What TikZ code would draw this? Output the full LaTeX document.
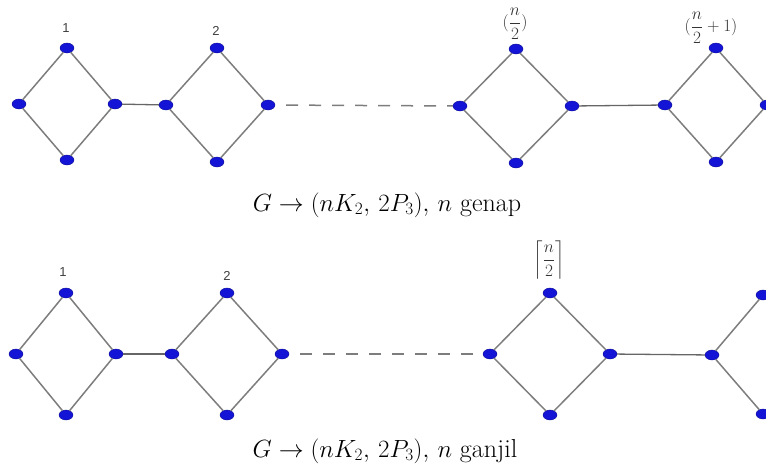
\documentclass[tikz,border=0pt]{standalone}
\usepackage{amsmath,amssymb}
\usepackage{fontspec}
\newfontfamily\lblfont{Liberation Sans}
\usetikzlibrary{shapes.geometric}
\definecolor{vblue}{RGB}{20,20,215}
\definecolor{egray}{RGB}{125,125,125}

\begin{document}
\begin{tikzpicture}[x=1pt,y=-1pt,
  vtx/.style={ellipse,draw=vblue!70!black,fill=vblue,minimum width=14pt,minimum height=10pt,inner sep=0pt},
  edge/.style={egray,line width=1.5pt},
  bridge/.style={black!60,line width=1.3pt},
  gap/.style={egray,line width=1.5pt,dash pattern=on 12pt off 11pt,dash phase=12pt},
  lbl/.style={font=\lblfont\fontsize{13}{15}\selectfont,text=black!75},
  mlbl/.style={font=\fontsize{16}{19}\selectfont,text=black!80,inner sep=0.5pt},
  captext/.style={font=\fontsize{26}{30}\selectfont,anchor=base}]
\useasboundingbox (0,0) rectangle (766,472);
\clip (0,0) rectangle (766,472);

\foreach \n/\x/\y/\w/\h in {a1/67/104/48/56, a2/217/105/51/57, a3/516/106/56/57, a4/716/105/51/57,
                            b1/66/354/50/61, b2/227/354/55/61, b3/550/354/60/61}{
  \node[vtx] (\n-l) at (\x-\w,\y) {};
  \node[vtx] (\n-t) at (\x,\y-\h) {};
  \node[vtx] (\n-r) at (\x+\w,\y) {};
  \node[vtx] (\n-b) at (\x,\y+\h) {};
  \draw[edge] (\n-l) -- (\n-t) -- (\n-r) -- (\n-b) -- (\n-l);
}
\node[vtx] (b4-l) at (712,355) {};
\node[vtx] (b4-t) at (763,295) {};
\node[vtx] (b4-b) at (763,414) {};
\draw[edge] (b4-t) -- (b4-l) -- (b4-b);

\draw[bridge] (a1-r) -- (a2-l);
\draw[gap] (a2-r) -- (a3-l);
\draw[bridge] (a3-r) -- (a4-l);
\draw[bridge] (b1-r) -- (b2-l);
\draw[gap] (b2-r) -- (b3-l);
\draw[bridge] (b3-r) -- (b4-l);

\node[lbl] (la1) at (66,28) {1};
\node[lbl] (la2) at (216,31) {2};
\node[mlbl,anchor=south] (la3) at (515,40) {$(\dfrac{n}{2})$};
\node[mlbl] (la4) at (711,28) {$(\dfrac{n}{2}+1)$};
\node[lbl] (lb1) at (63,272) {1};
\node[lbl] (lb2) at (227,276) {2};
\node[mlbl] (lb3) at (549,260) {$\left\lceil\dfrac{n}{2}\right\rceil$};

\node[captext] (capa) at (387,211) {$G\rightarrow(nK_2,\,2P_3),\,n$ genap};
\node[captext] (capb) at (385,457) {$G\rightarrow(nK_2,\,2P_3),\,n$ ganjil};
\end{tikzpicture}
\end{document}
